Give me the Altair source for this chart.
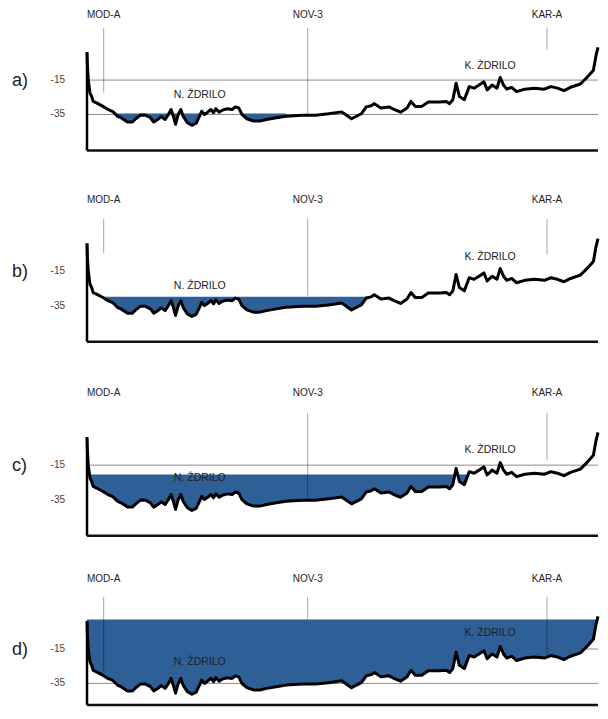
import altair as alt
import pandas as pd

# ---- terrain profile (distance along section, depth) ----
dist = [0, 0.5, 1.3, 3, 4.7, 6.3, 9.7, 16.3, 21.3, 26.3, 31.3, 34.7, 41.3, 46.3, 49.7,
        54.7, 59.7, 64.7, 68, 72.3, 75.7, 79.7, 83, 85.7, 88, 90.3, 93, 95.7, 98, 102.3,
        107, 111.3, 114.7, 117, 119.7, 123, 126.3, 129, 131.3, 134.7, 138, 143, 148, 151.3,
        154.7, 158, 163, 169.7, 176.3, 183, 193, 203, 219.7, 233, 246.3, 259.7, 269.7,
        279.7, 284.7, 289.7, 293, 299.7, 308, 313, 319.7, 326.3, 330.3, 334.7, 341.3, 348,
        359.7, 366.3, 369.7, 373, 376.3, 379.7, 384.7, 389.7, 394.7, 399.7, 404.7, 408, 413,
        418, 421.3, 424.7, 428, 433, 438, 446.3, 456.3, 466.3, 473, 479.7, 486.3, 493, 503,
        509.7, 516.3, 519, 521]
elev = [1.2, -7.4, -15, -22.4, -24.5, -27.4, -28.3, -30.3, -32.1, -33.3, -36.1, -36.9, -39.4,
        -39.4, -37.5, -35.3, -35.4, -36.9, -39.4, -37.9, -36.3, -37.9, -35, -32.1, -36, -40.7,
        -35, -32.1, -36, -39.8, -41.3, -40.1, -36, -33.1, -35, -33.7, -32.1, -34, -31.6, -33.7,
        -32.5, -31.7, -32.1, -30.6, -31.2, -35, -37.5, -38.8, -38.8, -37.9, -36.9, -36, -35.4,
        -35.4, -34.6, -33.5, -37.5, -34.6, -30.6, -29.9, -28.7, -31.2, -30.6, -32.1, -33.7,
        -31.2, -27.4, -30.3, -30.3, -27.7, -27.7, -27.4, -28.7, -26.4, -16.9, -24.5, -26.4,
        -18.8, -19.7, -17.9, -16, -20.7, -17.9, -19.7, -13.5, -17.9, -20.3, -19.2, -21.7,
        -20.3, -19.7, -20.3, -18.8, -19.7, -21.1, -19.2, -17.3, -13.5, -9.3, -0.7, 4.0]

# ---- per panel settings ----
panel_labels = ["a)", "b)", "c)", "d)"]
water_level = [-34.5, -29.8, -20.5, 2.2]
water_start = [26, 10, 2, 0]
water_end = [210, 290, 392, 521]
grid_lines = [[-15, -35], [], [-15], [-15, -35]]

well_names = ["MOD-A", "NOV-3", "KAR-A"]
well_dist = [17, 225, 469]
well_top = 15.4
well_bottom = [[-22.3, -35, 2.6], [-4.3, -29.3, -5.5], [15.4, -35, -11.9], [-28.7, 2.2, -18.3]]
well_label_v = [23, 26.3, 26.9, 25.5]

lake_names = ["N. ŽDRILO", "K. ŽDRILO"]
lake_dist = [115, 411]
lake_v = [[-23.5, -6.7], [-23.5, -6.7], [-22.3, -6.1], [-22.3, -5.5]]

y_ticks = [-15, -35]
y_tick_labels = ["-15", "-35"]

# vertical extent shown in each panel
dom_top = [26.9, 29.9, 31.6, 28.6]
dom_bot = [-56, -56, -56, -47.5]
x_max = 521

BLUE = "#2F5F97"
FONT = "Liberation Sans"
W = 511
PX_PER_UNIT = 1.72

xs = alt.Scale(domain=[0, x_max], nice=False, zero=False)
terrain = pd.DataFrame({"d": dist, "v": elev})


def panel(i):
    ys = alt.Scale(domain=[dom_bot[i], dom_top[i]], nice=False, zero=False)
    X = lambda f: alt.X(f, scale=xs, axis=None)
    Y = lambda f: alt.Y(f, scale=ys, axis=None)
    layers = []
    if grid_lines[i]:
        gdf = pd.DataFrame({"v": grid_lines[i], "d0": 0, "d1": x_max})
        layers.append(
            alt.Chart(gdf).mark_rule(color="#8c8c8c", strokeWidth=1).encode(
                x=X("d0:Q"), x2="d1:Q", y=Y("v:Q"))
        )
    lvl = water_level[i]
    layers.append(
        alt.Chart(terrain)
        .transform_filter(f"datum.d >= {water_start[i]} && datum.d <= {water_end[i]}")
        .transform_calculate(lvl=f"{lvl}", floor=f"min(datum.v, {lvl})")
        .mark_area(color=BLUE, opacity=1)
        .encode(x=X("d:Q"), y=Y("lvl:Q"), y2="floor:Q")
    )
    wdf = pd.DataFrame({"d": well_dist, "top": well_top, "bot": well_bottom[i]})
    layers.append(
        alt.Chart(wdf).mark_rule(color="black", opacity=0.35, strokeWidth=1).encode(
            x=X("d:Q"), y=Y("top:Q"), y2="bot:Q")
    )
    layers.append(
        alt.Chart(terrain).mark_line(color="black", strokeWidth=3, strokeJoin="round").encode(
            x=X("d:Q"), y=Y("v:Q"))
    )
    ldf = pd.DataFrame({"d": [0], "v0": [dom_bot[i]], "v1": [elev[0]]})
    layers.append(
        alt.Chart(ldf).mark_rule(color="black", strokeWidth=2.5).encode(
            x=X("d:Q"), y=Y("v0:Q"), y2="v1:Q")
    )
    bdf = pd.DataFrame({"d0": [0], "d1": [x_max], "v": [dom_bot[i]]})
    layers.append(
        alt.Chart(bdf).mark_rule(color="#111", strokeWidth=2.5).encode(
            x=X("d0:Q"), x2="d1:Q", y=Y("v:Q"))
    )
    ydf = pd.DataFrame({"v": y_ticks, "t": y_tick_labels})
    layers.append(
        alt.Chart(ydf).mark_text(fontSize=10, font=FONT, color="#444", align="right",
                                 baseline="middle").encode(
            x=alt.value(-22), y=Y("v:Q"), text="t:N")
    )
    tdf = pd.DataFrame({"d": well_dist, "v": well_label_v[i], "t": well_names})
    layers.append(
        alt.Chart(tdf).mark_text(fontSize=10, font=FONT, color="#222", baseline="middle").encode(
            x=X("d:Q"), y=Y("v:Q"), text="t:N")
    )
    kdf = pd.DataFrame({"d": lake_dist, "v": lake_v[i], "t": lake_names})
    layers.append(
        alt.Chart(kdf).mark_text(fontSize=10.5, font=FONT, color="#222", baseline="middle").encode(
            x=X("d:Q"), y=Y("v:Q"), text="t:N")
    )
    pdf = pd.DataFrame({"v": [-15.3], "t": [panel_labels[i]]})
    layers.append(
        alt.Chart(pdf).mark_text(fontSize=18, font=FONT, color="#222", align="left",
                                 baseline="middle").encode(
            x=alt.value(-75), y=Y("v:Q"), text="t:N")
    )
    h = (dom_top[i] - dom_bot[i]) * PX_PER_UNIT
    return alt.layer(*layers).properties(width=W, height=h)


top_block = alt.vconcat(panel(0), panel(1), panel(2), spacing=42)
chart = (
    alt.vconcat(top_block, panel(3), spacing=37)
    .properties(padding={"left": 4, "right": 0, "top": 0, "bottom": 0})
    .configure_view(stroke=None)
)

chart.save("out.html", embed_options={"renderer": "svg", "actions": False})
